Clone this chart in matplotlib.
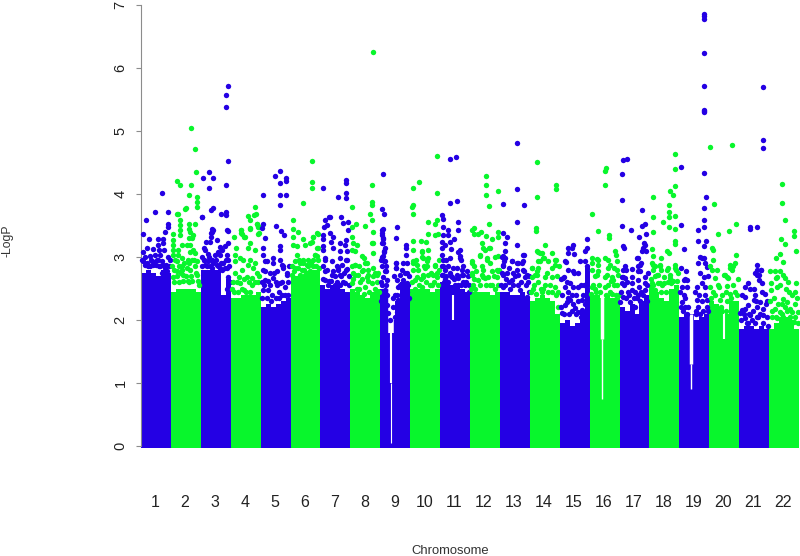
import numpy as np
import matplotlib
matplotlib.use('Agg')
import matplotlib.pyplot as plt

plt.rcParams['font.family'] = ['Liberation Sans', 'DejaVu Sans']

# colours of the two alternating chromosome groups
BLUE = '#2400E4'
GREEN = '#08F62C'

chrom_labels = [str(i) for i in range(1, 23)]

# top of the solid part of every chromosome, six bins each
band_tops = [
    [2.75, 2.80, 2.75, 2.70, 2.80, 2.75],
    [2.45, 2.50, 2.50, 2.50, 2.50, 2.45],
    [2.80, 2.80, 2.80, 2.80, 2.40, 2.65],
    [2.35, 2.35, 2.40, 2.40, 2.40, 2.45],
    [2.20, 2.25, 2.20, 2.25, 2.30, 2.35],
    [2.70, 2.70, 2.70, 2.75, 2.80, 2.80],
    [2.55, 2.50, 2.55, 2.55, 2.50, 2.45],
    [2.50, 2.45, 2.40, 2.35, 2.45, 2.50],
    [2.50, 2.50, 2.00, 2.30, 2.60, 2.60],
    [2.50, 2.50, 2.50, 2.50, 2.45, 2.50],
    [2.60, 2.60, 2.55, 2.55, 2.50, 2.45],
    [2.45, 2.45, 2.45, 2.45, 2.40, 2.45],
    [2.45, 2.45, 2.40, 2.40, 2.45, 2.35],
    [2.30, 2.35, 2.40, 2.35, 2.30, 2.10],
    [1.95, 2.00, 1.90, 1.95, 2.15, 2.85],
    [2.40, 2.40, 2.35, 2.40, 2.35, 2.35],
    [2.20, 2.15, 2.25, 2.10, 2.30, 2.40],
    [2.55, 2.45, 2.35, 2.30, 2.50, 2.55],
    [2.05, 2.10, 2.10, 2.00, 2.05, 2.10],
    [2.30, 2.25, 2.20, 2.10, 2.30, 2.30],
    [1.85, 1.90, 1.90, 1.85, 1.90, 1.85],
    [1.85, 1.95, 2.05, 2.05, 2.00, 1.85],
]

# thin empty stretches inside the solid part: position, from, to, width
gap_pos = [8.36, 8.36, 8.36, 15.40, 15.40, 18.39, 18.39, 18.39, 10.42, 19.50]
gap_low = [0.05, 1.00, 1.80, 0.75, 1.70, 0.90, 1.30, 2.10, 2.00, 1.70]
gap_high = [1.00, 1.80, 3.00, 1.70, 2.60, 1.30, 2.10, 2.60, 2.40, 2.10]
gap_width = [0.8, 1.5, 4.0, 1.0, 2.5, 1.0, 2.5, 4.0, 1.5, 1.5]

# markers above the solid part: (position, -log10 p)
chr1 = [(.69,4.01),(.47,3.72),(.91,3.72),(.18,3.58),(.91,3.53),(.89,3.47),(.80,3.40),(.08,3.37),(.28,3.28),(.58,3.28),
        (.75,3.28),(.58,3.19),(.75,3.22),(.61,3.11),(.19,3.14),(.41,3.13),(.77,3.11),(.91,3.0),(.06,3.08),(.64,3.03),
        (.13,3.0),(.30,3.01),(.47,3.03),(.36,2.93),(.52,2.95),(.69,2.93),(.41,2.87),(.08,2.93),(.19,2.9),(.80,2.82),(.61,2.85),
        (.05,2.95),(.14,2.87),(.24,2.85),(.33,2.95),(.44,2.92),(.50,2.87),(.58,2.95),(.63,2.85),(.73,2.87),(.85,2.87),(.95,2.85),(.98,2.95),(.30,2.85),(.70,2.75),(.88,2.78)]
chr2 = [(1.66,5.05),(1.80,4.71),(1.85,4.35),(1.2,4.2),(1.29,4.14),(1.68,4.15),(1.62,3.98),(1.88,3.95),(1.88,3.88),(1.88,3.8),
        (1.48,3.76),(1.19,3.68),(1.23,3.68),(1.30,3.59),(1.30,3.51),(1.30,3.43),(1.30,3.35),(1.62,3.53),(1.62,3.45),(1.64,3.40),
        (1.81,3.53),(1.49,3.77),(1.06,3.37),(1.08,3.27),(1.08,3.19),(1.08,3.11),(1.08,3.03),(1.25,3.11),(1.25,3.03),(1.36,2.98),
        (1.36,3.19),(1.53,3.19),(1.64,3.19),(1.75,3.11),(1.64,3.08),(1.81,3.06),(1.86,2.93),(1.70,2.95),(1.58,2.95),(1.75,3.35),
        (1.70,3.3),(1.62,3.3),(1.19,2.93),(1.36,2.85),(1.53,2.82),(1.81,2.85),(1.19,2.77),(1.08,2.69),(1.64,2.79),(1.42,2.71),(1.86,2.71),
        (1.05,2.85),(1.12,2.8),(1.15,2.95),(1.22,2.7),(1.28,2.85),(1.33,2.75),(1.40,2.62),(1.45,2.9),(1.5,2.7),(1.56,2.62),(1.62,2.9),
        (1.68,2.7),(1.72,2.62),(1.78,2.95),(1.84,2.75),(1.9,2.62),(1.95,2.55),(1.10,2.6),(1.27,2.6),(1.38,2.8),(1.6,2.6)]
chr3 = [(2.90,5.72),(2.85,5.57),(2.85,5.38),(2.90,4.52),(2.27,4.35),(2.41,4.26),(2.07,4.26),(2.27,4.10),(2.85,4.14),(2.41,3.77),
        (2.33,3.75),(2.05,3.63),(2.69,3.69),(2.85,3.72),(2.85,3.67),(2.90,3.42),(2.41,3.43),(2.33,3.38),(2.39,3.45),(2.36,3.4),
        (2.33,3.32),(2.53,3.27),(2.17,3.24),(2.31,3.24),(2.14,3.11),(2.25,3.05),(2.09,3.14),(2.64,3.16),(2.92,3.22),(2.81,3.17),
        (2.70,3.11),(2.56,3.08),(2.47,3.03),(2.64,3.03),(2.09,2.95),(2.25,2.93),(2.89,3.03),(2.92,2.95),(2.14,2.87),(2.36,2.95),
        (2.53,2.87),(2.75,2.9),(2.89,2.82),(2.64,2.82),(2.36,2.82),(2.92,2.69),(2.89,3.43),(2.05,3.64),
        (2.05,2.85),(2.12,2.95),(2.2,2.85),(2.28,3.0),(2.42,2.9),(2.5,2.95),(2.58,2.85),(2.68,2.9),(2.8,2.82),(2.85,2.95),(2.95,2.85),
        (2.32,2.85),(2.72,2.8),(2.04,3.0),(2.97,2.6),(2.88,2.5)]
chr4 = [(3.80,3.80),(3.84,3.68),(3.78,3.67),(3.63,3.58),(3.87,3.52),(3.92,3.47),(3.63,3.46),(3.33,3.43),(3.36,3.38),(3.44,3.31),
        (3.11,3.32),(3.92,3.37),(3.58,3.65),(3.88,3.53),(3.93,3.48),(3.65,3.45),(3.35,3.43),(3.37,3.36),(3.48,3.31),(3.93,3.38),
        (3.65,3.22),(3.59,3.14),(3.17,3.14),(3.81,3.11),(3.15,3.03),(3.31,2.98),(3.15,2.93),(3.42,2.95),(3.65,2.95),(3.81,2.9),
        (3.59,2.87),(3.37,2.80),(3.76,2.82),(3.87,2.74),(3.53,2.69),(3.15,2.74),(3.70,2.66),(3.31,2.58),(3.09,2.61),
        (3.05,2.5),(3.12,2.45),(3.2,2.6),(3.25,2.45),(3.38,2.5),(3.45,2.65),(3.52,2.45),(3.6,2.6),(3.65,2.45),(3.72,2.55),(3.82,2.6),
        (3.9,2.6),(3.95,2.7),(3.28,2.68),(3.46,2.48)]
chr5 = [(4.65,4.37),(4.48,4.28),(4.85,4.25),(4.85,4.20),(4.65,4.17),(4.65,3.98),(4.85,3.98),(4.07,3.98),(4.65,3.82),(4.09,3.53),
        (4.04,3.46),(4.52,3.49),(4.67,3.42),(4.78,3.35),(4.15,3.30),(4.09,3.14),(4.65,3.17),(4.65,3.11),(4.09,3.03),(4.43,2.98),
        (4.65,2.96),(4.15,2.93),(4.43,2.9),(4.70,2.87),(4.87,2.74),(4.54,2.77),(4.15,2.77),(4.45,2.74),(4.76,2.82),(4.20,2.93),
        (4.09,2.79),(4.31,2.74),(4.76,2.85),(4.87,2.71),(4.15,2.63),(4.43,2.66),(4.65,2.58),(4.09,2.48),(4.37,2.40),(4.82,2.53),
        (4.60,2.45),(4.26,2.48),(4.05,2.35),(4.12,2.55),(4.22,2.35),(4.3,2.55),(4.35,2.3),(4.5,2.6),(4.5,2.35),(4.56,2.55),(4.62,2.35),
        (4.7,2.6),(4.72,2.4),(4.8,2.4),(4.9,2.6),(4.93,2.4),(4.25,2.62),(4.03,2.6),(4.95,2.85)]
chr6 = [(5.73,4.53),(5.71,4.19),(5.71,4.10),(5.41,3.86),(5.07,3.58),(5.09,3.44),(5.26,3.40),(5.09,3.32),(5.43,3.29),(5.74,3.32),
        (5.90,3.38),(5.49,3.19),(5.71,3.24),(5.09,3.19),(5.21,3.18),(5.93,3.14),(5.82,3.03),(5.21,3.03),(5.43,2.95),(5.76,2.95),
        (5.15,2.93),(5.32,2.90),(5.54,2.87),(5.15,2.82),(5.76,2.85),(5.65,2.77),(5.37,2.79),(5.04,2.71),(5.82,2.71),(5.49,2.71),
        (5.93,3.37),(5.76,3.32),(5.65,3.22),(5.90,3.14),(5.81,3.03),(5.59,2.95),(5.93,2.95),
        (5.05,2.85),(5.12,2.78),(5.25,2.82),(5.3,2.72),(5.4,2.9),(5.45,2.8),(5.55,2.75),(5.6,2.85),(5.7,2.75),(5.85,2.85),(5.95,2.82),
        (5.68,2.9),(5.28,2.95),(5.9,3.02)]
chr7 = [(6.86,4.22),(6.86,4.17),(6.10,4.09),(6.86,4.02),(6.86,3.93),(6.57,3.95),(6.32,3.64),(6.27,3.64),(6.70,3.64),(6.93,3.56),
        (6.77,3.54),(6.15,3.58),(6.12,3.47),(6.21,3.51),(6.91,3.43),(6.32,3.38),(6.10,3.35),(6.10,3.28),(6.41,3.31),(6.86,3.27),
        (6.10,3.17),(6.10,3.11),(6.34,3.24),(6.66,3.22),(6.43,3.15),(6.82,3.19),(6.66,3.09),(6.90,3.09),(6.15,2.98),(6.38,2.93),
        (6.66,2.98),(6.90,2.95),(6.15,2.77),(6.60,2.82),(6.43,2.77),(6.90,2.81),(6.71,2.87),(6.15,2.95),(6.87,2.95),(6.60,2.79),
        (6.87,2.8),(6.37,2.71),(6.65,2.71),(6.15,2.63),(6.54,2.61),(6.82,2.58),(6.43,2.53),
        (6.07,2.65),(6.22,2.8),(6.28,2.62),(6.35,2.62),(6.5,2.7),(6.55,2.85),(6.7,2.7),(6.75,2.6),(6.8,2.75),(6.95,2.7),(6.95,2.55),
        (6.25,2.55),(6.1,2.85),(6.48,2.55),(6.65,2.55)]
chr8 = [(7.75,6.25),(7.73,4.15),(7.05,3.79),(7.71,3.88),(7.71,3.83),(7.66,3.68),(7.71,3.58),(7.05,3.48),(7.19,3.53),(7.49,3.49),
        (7.77,3.39),(7.05,3.32),(7.10,3.22),(7.21,3.19),(7.71,3.22),(7.77,3.22),(7.05,3.11),(7.77,3.06),(7.38,3.01),(7.16,3.09),
        (7.46,2.98),(7.55,2.90),(7.16,2.87),(7.77,2.82),(7.38,2.77),(7.10,2.74),(7.83,2.74),(7.60,2.71),(7.04,2.85),(7.15,2.87),
        (7.49,2.9),(7.43,2.79),(7.88,2.71),(7.15,2.71),(7.54,2.69),(7.04,2.58),(7.32,2.61),(7.49,2.53),(7.71,2.58),(7.21,2.5),
        (7.05,2.45),(7.1,2.65),(7.25,2.72),(7.3,2.5),(7.4,2.65),(7.45,2.42),(7.58,2.62),(7.62,2.45),(7.75,2.7),(7.82,2.5),(7.9,2.6),
        (7.95,2.45),(7.28,2.85),(7.6,2.8),(7.93,2.75)]
chr9 = [(8.10,4.32),(8.05,3.76),(8.14,3.69),(8.55,3.47),(8.05,3.43),(8.05,3.35),(8.08,3.28),(8.08,3.22),(8.53,3.30),(8.86,3.19),
        (8.86,3.14),(8.86,3.03),(8.13,3.09),(8.10,3.01),(8.13,2.93),(8.53,2.9),(8.53,2.82),(8.77,2.9),(8.16,2.77),(8.66,2.71),
        (8.89,2.74),(8.10,3.45),(8.07,3.38),(8.10,3.3),(8.07,3.22),(8.13,3.08),(8.07,3.0),(8.16,2.93),(8.07,2.85),(8.18,2.77),
        (8.10,2.69),(8.21,2.63),(8.07,2.55),(8.16,2.47),(8.21,2.4),(8.10,2.32),(8.21,2.24),(8.1,2.16),(8.27,2.11),(8.51,2.9),
        (8.51,2.82),(8.88,2.9),(8.83,2.74),(8.55,2.63),(8.77,2.63),(8.88,2.58),(8.6,2.53),(8.77,2.45),(8.49,2.4),(8.82,2.37),
        (8.43,2.21),(8.55,2.13),(8.49,2.05),(8.32,2.0),(8.82,2.26),(8.6,2.32),
        (8.03,2.6),(8.03,2.3),(8.2,2.55),(8.2,2.85),(8.03,2.95),(8.15,3.15),(8.45,2.7),(8.55,2.4),(8.65,2.55),(8.7,2.4),(8.72,2.8),
        (8.88,2.45),(8.93,2.55),(8.95,2.7),(8.95,2.35),(8.88,2.3),(8.65,2.25),(8.42,2.35)]
chr10 = [(9.89,4.61),(9.28,4.19),(9.11,4.09),(9.89,4.01),(9.11,3.83),(9.05,3.79),(9.11,3.69),(9.61,3.56),(9.83,3.53),(9.91,3.59),
         (9.61,3.37),(9.83,3.35),(9.92,3.37),(9.11,3.26),(9.35,3.26),(9.52,3.24),(9.11,3.11),(9.39,3.09),(9.61,3.11),(9.44,2.98),
         (9.61,2.98),(9.11,2.93),(9.22,2.87),(9.55,2.85),(9.83,2.87),(9.11,2.79),(9.44,2.71),(9.89,2.74),(9.38,3.08),(9.38,3.0),
         (9.55,2.93),(9.83,2.85),(9.10,2.9),(9.27,2.79),(9.49,2.82),(9.77,2.71),(9.16,2.63),(9.44,2.69),(9.88,2.69),(9.38,2.53),(9.66,2.55),
         (9.05,2.6),(9.15,2.5),(9.22,2.68),(9.3,2.55),(9.45,2.85),(9.52,2.6),(9.6,2.72),(9.68,2.75),(9.73,2.55),(9.8,2.6),(9.92,2.55),
         (9.96,2.8),(9.35,2.65),(9.2,2.95),(9.95,2.95)]
chr11 = [(10.33,4.56),(10.54,4.58),(10.33,3.85),(10.56,3.89),(10.06,3.67),(10.09,3.61),(10.59,3.55),(10.59,3.43),(10.09,3.48),(10.26,3.43),
         (10.09,3.35),(10.25,3.35),(10.45,3.29),(10.33,3.24),(10.06,3.24),(10.17,3.19),(10.06,3.14),(10.36,3.12),(10.67,3.11),(10.65,3.01),
         (10.70,2.95),(10.06,3.03),(10.11,2.95),(10.33,2.98),(10.11,2.85),(10.28,2.85),(10.56,2.82),(10.78,2.85),(10.89,2.77),(10.33,2.74),
         (10.78,2.71),(10.09,2.71),(10.61,3.08),(10.66,2.98),(10.44,2.82),(10.72,2.79),(10.72,2.71),(10.16,2.79),(10.39,2.69),(10.05,2.71),
         (10.61,2.66),(10.83,2.55),(10.50,2.55),(10.27,2.61),
         (10.05,2.85),(10.18,2.65),(10.2,2.95),(10.35,2.7),(10.45,2.65),(10.55,2.72),(10.6,2.55),(10.7,2.55),(10.78,2.6),(10.88,2.6),
         (10.95,2.55),(10.92,2.7),(10.2,2.7),(10.12,2.6),(10.98,2.45)]
chr12 = [(11.54,4.29),(11.54,4.14),(11.54,3.98),(11.92,4.05),(11.62,3.81),(11.62,3.52),(11.12,3.46),(11.06,3.43),(11.12,3.36),(11.36,3.39),
         (11.28,3.36),(11.54,3.33),(11.73,3.28),(11.92,3.39),(11.92,3.32),(11.39,3.22),(11.45,3.14),(11.67,3.14),(11.34,3.02),(11.56,2.98),
         (11.92,3.01),(11.06,2.93),(11.12,2.85),(11.67,2.9),(11.39,2.85),(11.92,2.77),(11.06,2.74),(11.45,2.69),(11.06,2.9),(11.33,3.03),
         (11.56,2.95),(11.5,3.11),(11.65,3.14),(11.84,3.0),(11.89,2.79),(11.89,2.69),(11.45,2.79),(11.06,2.71),(11.28,2.63),(11.5,2.66),(11.67,2.55),
         (11.05,2.5),(11.15,2.65),(11.18,2.5),(11.35,2.55),(11.4,2.72),(11.55,2.55),(11.6,2.68),(11.75,2.55),(11.8,2.7),(11.85,2.5),
         (11.95,2.55),(11.2,2.78),(11.72,2.78),(11.96,2.8),(11.1,2.55)]
chr13 = [(12.56,4.81),(12.56,4.08),(12.12,3.84),(12.79,3.82),(12.56,3.56),(12.09,3.38),(12.23,3.31),(12.17,3.22),(12.17,3.09),(12.56,3.19),
         (12.81,3.03),(12.12,3.01),(12.14,2.93),(12.12,2.85),(12.42,2.93),(12.56,2.9),(12.73,2.9),(12.56,2.79),(12.79,2.77),(12.90,2.71),
         (12.23,2.74),(12.06,3.0),(12.17,2.98),(12.39,2.94),(12.62,2.9),(12.78,2.93),(12.78,3.03),(12.11,2.87),(12.11,2.71),(12.62,2.71),
         (12.78,2.79),(12.84,2.69),(12.39,2.63),(12.11,2.53),(12.34,2.5),(12.67,2.48),(12.9,2.37),
         (12.05,2.55),(12.17,2.55),(12.22,2.65),(12.3,2.6),(12.45,2.55),(12.5,2.7),(12.62,2.55),(12.72,2.6),(12.88,2.55),(12.93,2.6),
         (12.97,2.45),(12.3,2.82),(12.45,2.75),(12.06,2.75),(12.96,2.7)]
chr14 = [(13.25,4.51),(13.25,3.95),(13.88,4.14),(13.88,4.08),(13.19,3.46),(13.19,3.42),(13.52,3.19),(13.23,3.09),(13.34,3.06),(13.73,3.06),
         (13.46,2.98),(13.29,2.93),(13.88,2.95),(13.85,2.87),(13.62,2.93),(13.29,2.82),(13.07,2.82),(13.73,2.82),(13.51,2.69),(13.73,2.69),
         (13.23,2.71),(13.29,3.08),(13.4,3.06),(13.06,2.82),(13.23,2.77),(13.06,2.69),(13.45,2.98),(13.34,2.93),(13.84,2.95),(13.29,2.61),
         (13.12,2.5),(13.68,2.55),(13.84,2.53),(13.4,2.45),
         (13.05,2.45),(13.15,2.55),(13.2,2.42),(13.36,2.5),(13.45,2.5),(13.52,2.55),(13.6,2.45),(13.75,2.45),(13.88,2.4),(13.94,2.45),
         (13.95,2.2),(13.92,2.7),(13.58,2.75),(13.16,2.72),(13.96,2.85)]
chr15 = [(14.43,3.19),(14.40,3.14),(14.29,3.14),(14.29,3.07),(14.48,3.05),(14.91,3.29),(14.91,3.14),(14.83,3.1),(14.2,2.92),(14.68,2.94),
         (14.85,2.94),(14.29,2.8),(14.48,2.75),(14.13,2.69),(14.91,2.85),(14.18,2.93),(14.46,2.77),(14.12,2.66),(14.23,2.61),(14.34,2.58),
         (14.18,2.53),(14.46,2.53),(14.62,2.53),(14.29,2.45),(14.4,2.4),(14.07,2.4),(14.34,2.32),(14.46,2.26),(14.18,2.24),(14.51,2.19),
         (14.07,2.11),(14.79,2.4),(14.73,2.32),(14.73,2.16),(14.62,2.13),
         (14.05,2.2),(14.15,2.1),(14.25,2.28),(14.3,2.1),(14.4,2.15),(14.55,2.1),(14.6,2.3),(14.7,2.55),(14.72,2.05),(14.8,2.55),
         (14.85,2.25),(14.55,2.4),(14.28,2.35),(14.05,2.65),(14.6,2.75)]
chr16 = [(15.55,4.41),(15.52,4.37),(15.53,4.14),(15.08,3.68),(15.27,3.42),(15.66,3.35),(15.66,3.30),(15.07,2.98),(15.29,2.96),(15.07,2.9),
         (15.29,2.87),(15.52,2.98),(15.63,2.95),(15.69,2.87),(15.85,3.09),(15.88,3.03),(15.91,2.93),(15.8,2.82),(15.07,2.79),(15.29,2.77),
         (15.57,2.71),(15.96,2.71),(15.24,2.97),(15.24,2.71),(15.07,2.53),(15.18,2.5),(15.63,2.82),(15.91,2.79),(15.51,2.69),(15.79,2.63),
         (15.51,2.53),(15.74,2.69),
         (15.05,2.42),(15.12,2.55),(15.18,2.7),(15.22,2.45),(15.3,2.55),(15.35,2.45),(15.55,2.4),(15.6,2.55),(15.68,2.45),(15.75,2.42),
         (15.82,2.55),(15.88,2.4),(15.93,2.55),(15.97,2.4),(15.7,2.62)]
chr17 = [(16.13,4.54),(16.24,4.56),(16.08,4.32),(16.08,3.9),(16.74,3.74),(16.86,3.53),(16.74,3.49),(16.08,3.49),(16.38,3.43),(16.89,3.37),
         (16.64,3.31),(16.86,3.19),(16.8,3.14),(16.74,3.1),(16.89,3.09),(16.13,3.17),(16.16,3.14),(16.6,2.98),(16.72,2.9),(16.41,2.81),
         (16.19,2.85),(16.11,2.79),(16.63,2.85),(16.69,2.77),(16.86,2.69),(16.41,2.69),(16.13,2.69),(16.07,2.69),(16.18,2.66),(16.07,2.58),
         (16.24,2.61),(16.41,2.58),(16.41,2.47),(16.13,2.37),(16.35,2.29),(16.02,2.29),(16.83,3.22),(16.61,2.98),(16.69,2.87),(16.61,2.77),
         (16.85,2.58),(16.61,2.63),(16.65,2.53),(16.85,2.47),(16.63,2.4),(16.8,2.4),
         (16.05,2.45),(16.15,2.55),(16.2,2.35),(16.28,2.45),(16.33,2.4),(16.47,2.35),(16.52,2.2),(16.5,2.45),(16.58,2.35),(16.68,2.3),
         (16.72,2.45),(16.92,2.55),(16.92,2.3),(16.22,2.8),(16.95,2.75)]
chr18 = [(17.86,4.63),(17.86,4.39),(17.86,4.13),(17.8,3.99),(17.69,4.05),(17.13,3.95),(17.67,3.83),(17.67,3.72),(17.67,3.63),(17.84,3.65),
         (17.13,3.64),(17.45,3.56),(17.67,3.47),(17.86,3.44),(17.13,3.39),(17.84,3.26),(17.84,3.21),(17.08,3.12),(17.11,3.01),(17.58,3.1),
         (17.67,3.06),(17.39,2.99),(17.11,2.87),(17.11,2.79),(17.36,2.85),(17.58,2.79),(17.84,2.87),(17.86,2.82),(17.3,2.71),(17.69,2.71),
         (17.47,2.69),(17.1,2.9),(17.36,2.87),(17.39,2.79),(17.63,2.82),(17.88,2.79),(17.24,2.71),(17.69,2.66),(17.08,2.58),(17.36,2.58),(17.19,2.48),
         (17.05,2.65),(17.13,2.55),(17.2,2.7),(17.28,2.58),(17.42,2.55),(17.5,2.58),(17.55,2.45),(17.62,2.6),(17.72,2.58),(17.8,2.62),
         (17.92,2.62),(17.95,2.75),(17.4,2.45),(17.78,2.45),(17.2,2.85)]
chr19 = [(18.84,6.85),(18.84,6.82),(18.84,6.78),(18.84,6.24),(18.84,5.71),(18.84,5.34),(18.84,5.32),(18.84,5.30),(18.84,4.33),(18.88,3.95),
         (18.84,3.77),(18.84,3.58),(18.84,3.48),(18.05,4.43),(18.05,3.51),(18.61,3.43),(18.61,3.26),(18.88,3.26),(18.84,3.18),(18.17,3.12),
         (18.75,2.98),(18.84,2.98),(18.61,2.9),(18.86,2.9),(18.92,2.84),(18.05,2.82),(18.22,2.77),(18.2,2.65),(18.84,2.69),(18.14,2.64),
         (18.25,2.64),(18.08,2.53),(18.25,2.53),(18.03,2.45),(18.14,2.4),(18.08,2.29),(18.19,2.21),(18.69,3.0),(18.75,2.58),(18.86,2.53),
         (18.58,2.53),(18.53,2.45),(18.64,2.4),(18.86,2.4),(18.92,2.32),(18.58,2.32),
         (18.05,2.2),(18.2,2.35),(18.25,2.1),(18.3,2.2),(18.12,2.15),(18.55,2.15),(18.62,2.2),(18.7,2.1),(18.75,2.3),(18.8,2.15),
         (18.92,2.2),(18.96,2.15),(18.55,2.1),(18.95,2.7),(18.7,2.75)]
chr20 = [(19.04,4.74),(19.77,4.78),(19.16,3.84),(19.89,3.53),(19.67,3.42),(19.29,3.37),(19.09,3.14),(19.14,3.11),(19.9,3.03),(19.12,2.96),
         (19.03,2.86),(19.09,2.79),(19.7,2.87),(19.81,2.85),(19.75,2.79),(19.87,2.9),(19.25,2.8),(19.48,2.71),(19.59,2.69),(19.51,2.71),
         (19.64,2.66),(19.7,2.82),(19.2,2.66),(19.03,2.52),(19.31,2.52),(19.59,2.54),(19.7,2.42),
         (19.05,2.35),(19.12,2.45),(19.2,2.4),(19.28,2.55),(19.35,2.32),(19.42,2.4),(19.55,2.45),(19.6,2.3),(19.72,2.35),(19.78,2.55),
         (19.85,2.45),(19.93,2.4),(19.95,2.65),(19.4,2.2),(19.55,2.15)]
chr21 = [(20.79,5.7),(20.79,4.85),(20.79,4.73),(20.37,3.48),(20.37,3.44),(20.58,3.47),(20.59,2.87),(20.59,2.8),(20.74,2.8),(20.59,2.71),
         (20.73,2.79),(20.65,2.71),(20.53,2.74),(20.65,2.63),(20.76,2.58),(20.31,2.58),(20.18,2.53),(20.48,2.5),(20.37,2.5),(20.76,2.45),
         (20.87,2.42),(20.53,2.4),(20.09,2.4),(20.2,2.37),(20.48,2.32),(20.7,2.29),(20.31,2.24),(20.2,2.18),(20.59,2.21),(20.81,2.18),
         (20.09,2.16),(20.03,2.11),(20.37,2.08),(20.59,2.05),(20.81,2.08),(20.2,2.03),(20.42,2.0),
         (20.05,2.0),(20.15,2.1),(20.25,1.95),(20.33,2.1),(20.45,2.15),(20.52,1.95),(20.62,2.05),(20.7,2.1),(20.78,1.95),(20.88,2.25),
         (20.92,2.05),(20.95,1.9),(20.3,1.95),(20.55,2.3),(20.93,2.3)]
chr22 = [(21.44,4.16),(21.44,3.86),(21.54,3.59),(21.82,3.41),(21.82,3.33),(21.39,3.28),(21.54,3.21),(21.9,3.1),(21.35,3.05),(21.24,2.99),
         (21.45,2.92),(21.04,2.77),(21.2,2.78),(21.37,2.77),(21.48,2.71),(21.54,2.66),(21.26,2.69),(21.22,2.67),(21.06,2.58),(21.37,2.55),
         (21.26,2.53),(21.56,2.5),(21.65,2.45),(21.85,2.45),(21.89,2.59),(21.06,2.48),(21.48,2.34),(21.43,2.26),(21.59,2.29),(21.2,2.18),
         (21.37,2.13),(21.7,2.18),(21.87,2.26),(21.98,2.13),(21.09,2.05),(21.26,2.03),(21.48,2.05),(21.65,2.0),(21.82,1.97),
         (21.03,2.3),(21.1,2.15),(21.15,2.35),(21.22,2.05),(21.3,2.25),(21.42,2.1),(21.52,2.2),(21.6,2.15),(21.7,2.05),(21.78,2.12),
         (21.88,2.05),(21.95,1.95),(21.92,2.35),(21.78,2.4),(21.62,2.6)]

all_chroms = [chr1, chr2, chr3, chr4, chr5, chr6, chr7, chr8, chr9, chr10, chr11,
              chr12, chr13, chr14, chr15, chr16, chr17, chr18, chr19, chr20, chr21, chr22]

W, H = 800, 556
fig = plt.figure(figsize=(W / 100, H / 100), dpi=100)
ax = fig.add_axes([141 / W, (H - 449.15) / H, 658 / W, 444.15 / H])
ax.set_xlim(0, 22)
ax.set_ylim(-0.05, 7)

# solid part, then the single markers on top, chromosome by chromosome
for i, tops in enumerate(band_tops):
    col = BLUE if i % 2 == 0 else GREEN
    edges = i + np.arange(len(tops)) / len(tops)
    ax.bar(edges, np.array(tops) + 0.03, width=1 / len(tops), bottom=-0.03,
           align='edge', color=col, linewidth=0, zorder=2)

ax.vlines(gap_pos, gap_low, gap_high, colors='white', linewidths=gap_width, zorder=3)

for i, pts in enumerate(all_chroms):
    col = BLUE if i % 2 == 0 else GREEN
    pts = np.array(pts)
    ax.scatter(pts[:, 0], pts[:, 1], s=15, color=col, linewidths=0, zorder=4, clip_on=False)

for s in ['top', 'right', 'bottom']:
    ax.spines[s].set_visible(False)
ax.spines['left'].set_bounds(0, 7)
ax.spines['left'].set_color('#8c8c8c')

ax.set_yticks(range(8))
ax.tick_params(axis='y', length=3.6, width=0.8, color='#8c8c8c', labelcolor='#222222',
               labelsize=10.5, pad=6)
for t in ax.get_yticklabels():
    t.set_rotation(90)
    t.set_va('center')

ax.set_xticks(np.arange(22) + 0.47)
ax.set_xticklabels(chrom_labels)
ax.tick_params(axis='x', length=0, labelsize=11.5, labelcolor='#222222', pad=33)

fig.text(450 / W, 1 - 551 / H, 'Chromosome', ha='center', va='center', fontsize=9.4, color='#333333')
fig.text(7 / W, 1 - 241 / H, '-LogP', ha='center', va='center', rotation=90, fontsize=8.8, color='#333333')

fig.savefig('out.png', dpi=100)
